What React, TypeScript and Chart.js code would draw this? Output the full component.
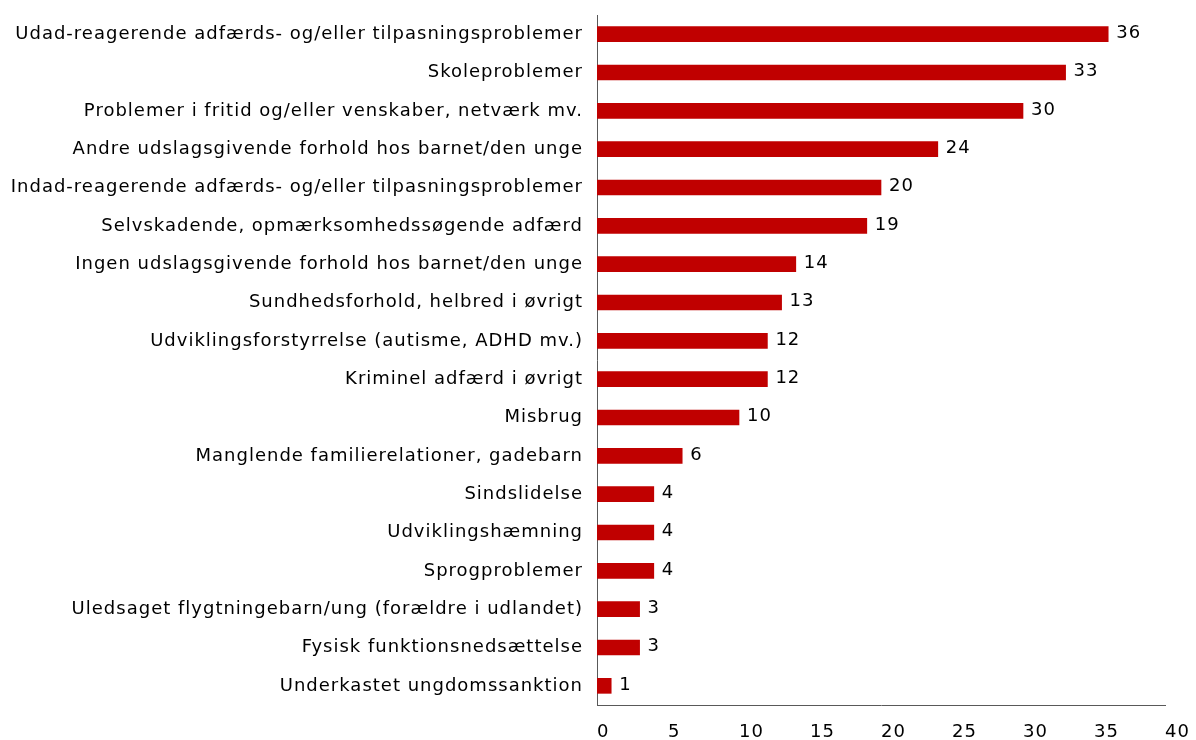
import React, { useEffect, useRef } from "react";
import { Chart, registerables } from "chart.js";

Chart.register(...registerables);

const categories = [
  "Udad-reagerende adfærds- og/eller tilpasningsproblemer",
  "Skoleproblemer",
  "Problemer i fritid og/eller venskaber, netværk mv.",
  "Andre udslagsgivende forhold hos barnet/den unge",
  "Indad-reagerende adfærds- og/eller tilpasningsproblemer",
  "Selvskadende, opmærksomhedssøgende adfærd",
  "Ingen udslagsgivende forhold hos barnet/den unge",
  "Sundhedsforhold, helbred i øvrigt",
  "Udviklingsforstyrrelse (autisme, ADHD mv.)",
  "Kriminel adfærd i øvrigt",
  "Misbrug",
  "Manglende familierelationer, gadebarn",
  "Sindslidelse",
  "Udviklingshæmning",
  "Sprogproblemer",
  "Uledsaget flygtningebarn/ung (forældre i udlandet)",
  "Fysisk funktionsnedsættelse",
  "Underkastet ungdomssanktion",
];

const values = [36, 33, 30, 24, 20, 19, 14, 13, 12, 12, 10, 6, 4, 4, 4, 3, 3, 1];

const xMin = 0;
const xMax = 40;
const xStep = 5;

const FONT = "'DejaVu Sans', Verdana, sans-serif";
const SIZE = 18;

const spacing = {
  id: "spacing",
  beforeDraw(chart: any) {
    chart.ctx.letterSpacing = "1px";
  },
};

const valueLabels = {
  id: "valueLabels",
  afterDatasetsDraw(chart: any) {
    const ctx = chart.ctx;
    const meta = chart.getDatasetMeta(0);
    ctx.save();
    ctx.letterSpacing = "1px";
    ctx.font = `${SIZE}px ${FONT}`;
    ctx.fillStyle = "#000000";
    ctx.textAlign = "left";
    ctx.textBaseline = "middle";
    meta.data.forEach((bar: any, i: number) => {
      ctx.fillText(String(values[i]), bar.x + 8, bar.y - 1);
    });
    ctx.restore();
  },
};

export default function App() {
  const ref = useRef<HTMLCanvasElement | null>(null);
  useEffect(() => {
    if (!ref.current) return;
    const chart = new Chart(ref.current, {
      type: "bar",
      data: {
        labels: categories,
        datasets: [
          {
            data: values,
            backgroundColor: "#C00000",
            barThickness: 15,
          },
        ],
      },
      options: {
        indexAxis: "y",
        animation: false,
        responsive: false,
        maintainAspectRatio: false,
        layout: { padding: { top: 15, right: 31, left: 0, bottom: 0 } },
        plugins: {
          legend: { display: false },
          tooltip: { enabled: false },
        },
        scales: {
          x: {
            min: xMin,
            max: xMax,
            grid: { display: false, drawTicks: false },
            border: { display: true, color: "#595959", width: 1 },
            ticks: {
              stepSize: xStep,
              align: "start",
              padding: 17,
              color: "#000000",
              font: { family: FONT, size: SIZE },
            },
            afterFit: (s: any) => {
              s.height = 35;
              s.paddingLeft = 0;
              s.paddingRight = 0;
            },
          },
          y: {
            grid: { display: false, drawTicks: false },
            border: { display: true, color: "#595959", width: 1 },
            ticks: {
              padding: 14,
              color: "#000000",
              autoSkip: false,
              font: { family: FONT, size: SIZE },
            },
            afterFit: (s: any) => {
              s.width = 597;
              s.paddingTop = 0;
              s.paddingBottom = 0;
            },
          },
        },
      },
      plugins: [spacing, valueLabels],
    });
    return () => chart.destroy();
  }, []);
  return (
    <div style={{ position: "absolute", left: 0, top: 0, width: 1196, height: 740, background: "#fff" }}>
      <canvas ref={ref} width={1196} height={740} style={{ display: "block" }} />
    </div>
  );
}
